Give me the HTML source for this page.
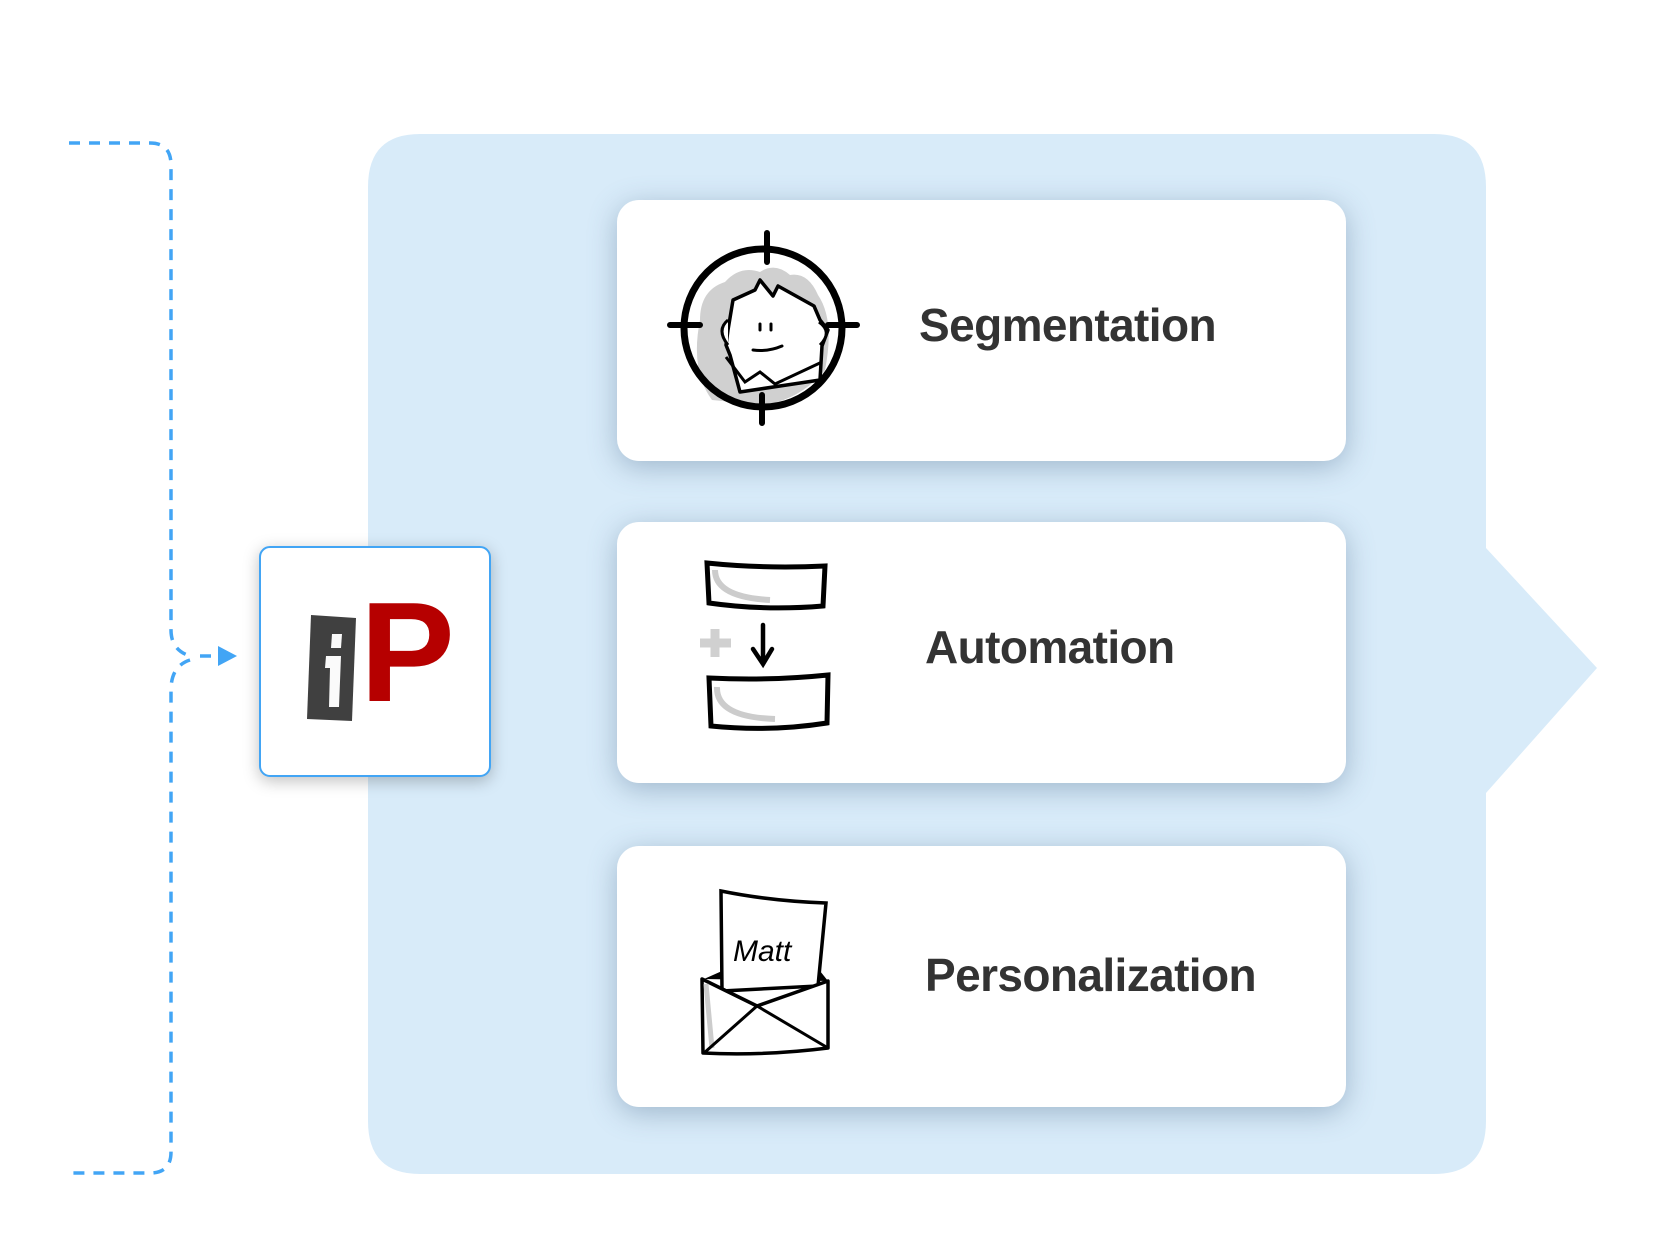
<!DOCTYPE html>
<html><head><meta charset="utf-8"><style>
html,body{margin:0;padding:0;background:#fff;}
body{width:1667px;height:1250px;position:relative;overflow:hidden;font-family:"Liberation Sans",sans-serif;}
.card{position:absolute;left:617px;width:729px;height:261px;background:#fff;border-radius:22px;box-shadow:0 6px 28px rgba(90,120,150,0.45);}
.lbl{position:absolute;font-weight:bold;font-size:46px;color:#333;letter-spacing:-0.6px;}
</style></head><body>
<svg width="1667" height="1250" style="position:absolute;left:0;top:0">
  <path d="M420,134 H1434 Q1486,134 1486,187 V548 L1597,668 L1486,793 V1121 Q1486,1174 1434,1174 H420 Q368,1174 368,1121 V187 Q368,134 420,134 Z" fill="#d8ebf9"/>
  <g fill="none" stroke="#42a5f5" stroke-width="3.5" stroke-dasharray="11,9">
    <path d="M69,143 H150 Q171,143 171,165 V630 Q171,650 190,656"/>
    <path d="M190,660 Q171,666 171,690 V1152 Q171,1173 150,1173 H69"/>
    <path d="M200,656 H218"/>
  </g>
  <polygon points="218,646 237,656 218,666" fill="#42a5f5"/>
</svg>
<div style="position:absolute;left:259px;top:546px;width:228px;height:227px;border:2.5px solid #42a5f5;border-radius:11px;background:#fff;box-shadow:0 4px 16px rgba(0,0,0,0.25)"></div>
<svg width="1667" height="1250" style="position:absolute;left:0;top:0">
  <polygon points="311,615 356,618 352,721 307,719" fill="#404040"/>
  <polygon points="332,634 342,634 341,648 331,648" fill="#fafafa"/>
  <polygon points="326,656 341,656 339,707 329,707 330,668 325,668" fill="#fafafa"/>
  <text x="360" y="701" font-family="Liberation Sans" font-weight="bold" font-size="142" fill="#b60000">P</text>
</svg>

<div class="card" style="top:200px"></div>
<div class="card" style="top:522px"></div>
<div class="card" style="top:846px"></div>
<div class="lbl" style="left:919px;top:298px">Segmentation</div>
<div class="lbl" style="left:925px;top:620px">Automation</div>
<div class="lbl" style="left:925px;top:948px">Personalization</div>

<svg width="1667" height="1250" style="position:absolute;left:0;top:0">
  <!-- segmentation -->
  <circle cx="763" cy="328" r="76" fill="#fff"/>
  <path d="M712,400 Q690,370 700,320 Q700,290 725,282 Q740,265 760,272 Q775,262 790,275 Q808,272 818,295 Q835,320 825,370 Q800,400 763,405 Z" fill="#d0d0d0"/>
  <path d="M733,300 L755,290 L760,280 L773,296 L778,286 L814,306 L820,320 L828,330 L822,346 L820,380 L740,392 L730,355 L726,345 L728,330 Z" fill="#fff" stroke="#000" stroke-width="3.5" stroke-linejoin="round"/>
  <path d="M728,320 Q716,330 728,345" fill="#fff" stroke="#000" stroke-width="3"/>
  <path d="M819,322 Q833,332 820,345" fill="#fff" stroke="#000" stroke-width="3"/>
  <path d="M760,324 v6 M771,324 v6" stroke="#000" stroke-width="3" stroke-linecap="round"/>
  <path d="M753,350 Q768,352 782,346" fill="none" stroke="#000" stroke-width="3" stroke-linecap="round"/>
  <path d="M726,357 L745,382 L760,372 L775,384 L822,362" fill="none" stroke="#000" stroke-width="3"/>
  <circle cx="763" cy="328" r="79" fill="none" stroke="#000" stroke-width="7"/>
  <path d="M767,233 V262 M670,325 H700 M828,325 H857 M762,395 V423" stroke="#000" stroke-width="6" stroke-linecap="round"/>
  <g transform="translate(0,-3)">
  <!-- automation -->
  <path d="M707,566 Q765,572 825,569 L823,609 Q765,614 709,606 Z" fill="#fff" stroke="#000" stroke-width="5"/>
  <path d="M715,573 Q715,600 770,603" fill="none" stroke="#ccc" stroke-width="6"/>
  <path d="M709,681 Q770,684 828,678 L827,726 Q770,735 711,729 Z" fill="#fff" stroke="#000" stroke-width="5"/>
  <path d="M717,690 Q716,720 775,722" fill="none" stroke="#ccc" stroke-width="6"/>
  <path d="M700,646 H731 M715,632 V660" stroke="#d0d0d0" stroke-width="9"/>
  <path d="M763,628 V665 M753,652 L763,667 L772,652" fill="none" stroke="#000" stroke-width="4.5" stroke-linecap="round"/>
  </g>
  <g transform="translate(0,-4)">
  <!-- personalization -->
  <path d="M704,983 L722,975 L820,975 L828,985 Z" fill="#000"/>
  <path d="M721,895 Q770,905 826,907 L818,990 L722,995 Z" fill="#fff" stroke="#000" stroke-width="3.5"/>
  <text x="733" y="965" font-family="Liberation Sans" font-size="30" fill="#000" font-style="italic">Matt</text>
  <path d="M702,983 L757,1010 L828,985 L828,1052 Q765,1060 703,1057 Z" fill="#fff" stroke="#000" stroke-width="3.5" stroke-linejoin="round"/>
  <path d="M706,988 L712,1052" stroke="#ccc" stroke-width="5"/>
  <path d="M704,1057 L757,1010 L828,1052" fill="none" stroke="#000" stroke-width="3"/>
  </g>
</svg>
</body></html>
